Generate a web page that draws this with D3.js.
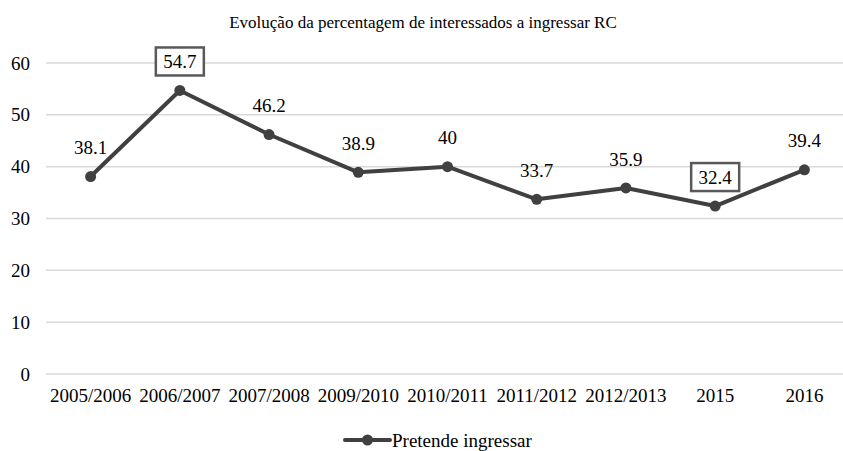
<!DOCTYPE html>
<html>
<head>
<meta charset="utf-8">
<script src="https://cdn.jsdelivr.net/npm/d3@7"></script>
<style>
  html, body { margin: 0; padding: 0; background: #fff; }
  svg { display: block; }
</style>
</head>
<body>
<svg id="chart" width="843" height="451"></svg>
<script>
// Percentage of people interested in joining RC, per school year
const categories = ["2005/2006", "2006/2007", "2007/2008", "2009/2010", "2010/2011", "2011/2012", "2012/2013", "2015", "2016"];
const values = [38.1, 54.7, 46.2, 38.9, 40, 33.7, 35.9, 32.4, 39.4];
const labelText = ["38.1", "54.7", "46.2", "38.9", "40", "33.7", "35.9", "32.4", "39.4"];
const boxedLabels = ["2006/2007", "2015"];
const yTicks = [0, 10, 20, 30, 40, 50, 60];
const seriesName = "Pretende ingressar";
const title = "Evolução da percentagem de interessados a ingressar RC";

const FONT = '"Liberation Serif"';
const FS = "19px";

const svg = d3.select("#chart");
const lineColor = "#404040";

const x = d3.scaleBand().domain(categories).range([46, 849]);
const y = d3.scaleLinear().domain([0, 60]).range([374, 63]);
const cx = d => x(d) + x.bandwidth() / 2;

// Title
svg.append("text")
  .attr("x", 423).attr("y", 28)
  .attr("text-anchor", "middle")
  .style("font-family", FONT)
  .style("font-size", "17px")
  .attr("fill", "#000")
  .text(title);

// Horizontal gridlines
svg.append("g").selectAll("line")
  .data(yTicks)
  .join("line")
  .attr("x1", 46).attr("x2", 849)
  .attr("y1", d => y(d)).attr("y2", d => y(d))
  .attr("stroke", "#d9d9d9").attr("stroke-width", 1.5);

// Y axis labels
const yAxis = d3.axisLeft(y).tickValues(yTicks).tickSize(0).tickPadding(0);
const yg = svg.append("g").attr("transform", "translate(30,0)").call(yAxis);
yg.select(".domain").remove();
yg.attr("font-family", null).attr("font-size", null);
yg.selectAll("text").style("font-size", FS).style("font-family", FONT).attr("fill", "#000");

// X axis labels
const xAxis = d3.axisBottom(x).tickSize(0).tickPadding(0);
const xg = svg.append("g").attr("transform", "translate(0,388.5)").call(xAxis);
xg.select(".domain").remove();
xg.attr("font-family", null).attr("font-size", null);
xg.selectAll("text").style("font-size", FS).style("font-family", FONT).attr("fill", "#000");

// Series line
const line = d3.line().x((d, i) => cx(categories[i])).y(d => y(d));
svg.append("path")
  .datum(values)
  .attr("d", line)
  .attr("fill", "none")
  .attr("stroke", lineColor)
  .attr("stroke-width", 4)
  .attr("stroke-linejoin", "round");

// Markers
svg.append("g").selectAll("circle")
  .data(values)
  .join("circle")
  .attr("cx", (d, i) => cx(categories[i]))
  .attr("cy", d => y(d))
  .attr("r", 5.5)
  .attr("fill", lineColor);

// Data labels
const lg = svg.append("g");
values.forEach((v, i) => {
  const px = cx(categories[i]);
  const py = y(v) - 29;
  const boxed = boxedLabels.includes(categories[i]);
  if (boxed) {
    lg.append("rect")
      .attr("x", px - 24).attr("y", py - 14)
      .attr("width", 48).attr("height", 28)
      .attr("fill", "#fff")
      .attr("stroke", "#595959").attr("stroke-width", 2.5);
  }
  lg.append("text")
    .attr("x", px).attr("y", py)
    .attr("dy", "0.35em")
    .attr("text-anchor", "middle")
    .style("font-family", FONT)
    .style("font-size", FS)
    .attr("fill", "#000")
    .text(labelText[i]);
});

// Legend
const legend = svg.append("g").attr("transform", "translate(345,440)");
legend.append("line").attr("x1", 0).attr("x2", 45).attr("y1", 0).attr("y2", 0)
  .attr("stroke", lineColor).attr("stroke-width", 4).attr("stroke-linecap", "round");
legend.append("circle").attr("cx", 22.5).attr("cy", 0).attr("r", 5.5).attr("fill", lineColor);
legend.append("text").attr("x", 47).attr("y", 0).attr("dy", "0.38em")
  .style("font-family", FONT)
  .style("font-size", FS)
  .attr("fill", "#000")
  .text(seriesName);
</script>
</body>
</html>
